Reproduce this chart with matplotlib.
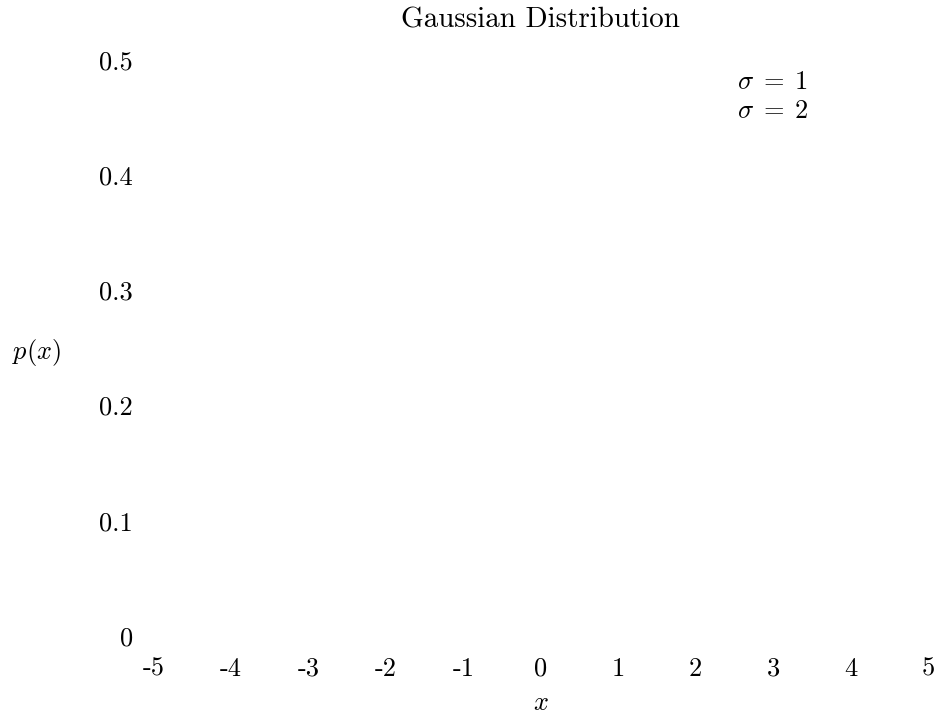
import matplotlib
matplotlib.use('Agg')
import matplotlib.pyplot as plt
import numpy as np

plt.rcParams['font.family'] = 'cmr10'
plt.rcParams['mathtext.fontset'] = 'cm'
plt.rcParams['axes.unicode_minus'] = False
plt.rcParams['font.size'] = 19

# values read / estimated (curves are not visible in the picture)
x_vals = [-5, -4, -3, -2, -1, 0, 1, 2, 3, 4, 5]
p_sigma1 = [0.0000, 0.0001, 0.0044, 0.0540, 0.2420, 0.3989, 0.2420, 0.0540, 0.0044, 0.0001, 0.0000]
p_sigma2 = [0.0088, 0.0270, 0.0648, 0.1210, 0.1760, 0.1995, 0.1760, 0.1210, 0.0648, 0.0270, 0.0088]
series_labels = [r'$\sigma \;=\; 1$', r'$\sigma \;=\; 2$']

x_ticks = [-5, -4, -3, -2, -1, 0, 1, 2, 3, 4, 5]
x_ticklabels = ['-5', '-4', '-3', '-2', '-1', '0', '1', '2', '3', '4', '5']
y_ticks = [0, 0.1, 0.2, 0.3, 0.4, 0.5]
y_ticklabels = ['0', '0.1', '0.2', '0.3', '0.4', '0.5']

W, H = 935, 717
fig = plt.figure(figsize=(W / 100, H / 100), dpi=100)
ax = fig.add_axes([153.5 / W, 1 - 636 / H, (928 - 153.5) / W, (636 - 60) / H])

# lines are drawn fully transparent, as in the original
ax.plot(x_vals, p_sigma1, color='tab:blue', alpha=0, label=series_labels[0])
ax.plot(x_vals, p_sigma2, color='tab:orange', alpha=0, label=series_labels[1])

ax.set_xlim(-5, 5)
ax.set_ylim(0, 0.5)
ax.set_xticks(x_ticks)
ax.set_xticklabels(x_ticklabels)
ax.set_yticks(y_ticks)
ax.set_yticklabels(y_ticklabels)
ax.tick_params(axis='both', length=0)
ax.tick_params(axis='x', pad=15)
ax.tick_params(axis='y', pad=15)
for s in ax.spines.values():
    s.set_visible(False)

ax.set_title('Gaussian Distribution', y=(636 - 20) / 576, pad=0, va='center', fontsize=20.9)
ax.set_xlabel(r'$x$')
ax.xaxis.set_label_coords(0.5, (636 - 703) / 576)
ax.xaxis.label.set_va('center')
ax.set_ylabel(r'$p(x)$', rotation=0, ha='center', va='center')
ax.yaxis.set_label_coords((37 - 153.5) / 774.5, (636 - 352) / 576)

leg = ax.legend(loc='upper left', bbox_to_anchor=(737 / W, 1 - 70 / H),
                bbox_transform=fig.transFigure, frameon=False, borderpad=0,
                borderaxespad=0, handlelength=0, handletextpad=0, labelspacing=0.2)

plt.savefig('out.png', dpi=100)
